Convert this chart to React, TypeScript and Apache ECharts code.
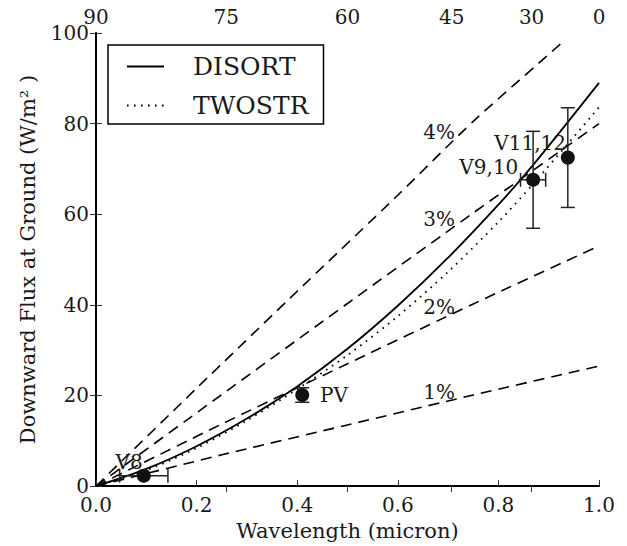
import React, { useEffect, useRef } from "react";
import * as echarts from "echarts";

// Model curves: downward flux at ground vs. wavelength
const waveGrid = [0, 0.1, 0.2, 0.3, 0.4, 0.5, 0.6, 0.7, 0.8, 0.87, 1.0];
const disortFlux = [0, 3.8, 8.8, 14.9, 22.0, 30.3, 39.8, 50.4, 62.1, 71.0, 89];
const twostrFlux = [0, 3.5, 8.4, 14.5, 21.4, 28.9, 37.5, 47.3, 58.3, 66.8, 83.6];

// Reference curves for fixed fractions
const pct4X = [0, 0.2, 0.4, 0.6, 0.75, 0.93];
const pct4Y = [0, 21.6, 43, 64.2, 80.5, 98.2];
const pct3X = [0, 0.25, 0.5, 0.75, 1.0];
const pct3Y = [0, 20.2, 40.3, 60.3, 80];
const pct2X = [0, 0.25, 0.5, 0.75, 1.0];
const pct2Y = [0, 13.7, 27, 40.2, 53];
const pct1X = [0, 0.25, 0.5, 0.75, 1.0];
const pct1Y = [0, 6.9, 13.5, 20.1, 26.5];
const pctLabels = ["4%", "3%", "2%", "1%"];
const pctLabelX = [0.682, 0.682, 0.682, 0.682];
const pctLabelY = [78.2, 58.9, 39.6, 20.7];

// Observations with error bars
const obsNames = ["V8", "PV", "V9,10", "V11,12"];
const obsX = [0.095, 0.41, 0.869, 0.938];
const obsY = [2.3, 20.1, 67.6, 72.5];
const obsXErr = [0.048, 0, 0.025, 0];
const obsYErr = [0, 1.6, 10.7, 11];
const obsLabelX = [0.066, 0.473, 0.781, 0.863];
const obsLabelY = [5.3, 20, 70.5, 75.8];

// Top axis: solar zenith angle (degrees), placed at cos(angle)
const zenithTicks = [90, 75, 60, 45, 30, 0];

const zip = (xs: number[], ys: number[]) => xs.map((x, i) => [x, ys[i]]);

const FONT = "DejaVu Serif";
const TEXT = "#1a1a1a";

export default function App() {
  const ref = useRef<HTMLDivElement>(null);

  useEffect(() => {
    if (!ref.current) return;
    const chart = echarts.init(ref.current, null, { renderer: "svg" });

    const zenithPos = zenithTicks.map((d) => Number(Math.cos((d * Math.PI) / 180).toFixed(6)));
    const angleAt = (v: number) => {
      const i = zenithPos.findIndex((p) => Math.abs(p - v) < 1e-4);
      return i >= 0 ? String(zenithTicks[i]) : "";
    };

    const dashed = (name: string, xs: number[], ys: number[]) => ({
      name,
      type: "line",
      data: zip(xs, ys),
      showSymbol: false,
      symbol: "none",
      smooth: 0.2,
      lineStyle: { color: "#000", width: 1.6, type: [11, 7] },
      z: 2,
    });

    const axisLine = { show: true, lineStyle: { color: "#000", width: 1.8 } };
    const tick = { show: true, inside: true, length: 6, lineStyle: { color: "#333", width: 1 } };
    const label = { fontFamily: FONT, fontSize: 20, color: TEXT };

    chart.setOption({
      animation: false,
      backgroundColor: "#fff",
      grid: { left: 96, right: 28, top: 33, bottom: 58, containLabel: false },
      legend: {
        left: 108,
        top: 45,
        orient: "vertical",
        data: ["DISORT", "TWOSTR"],
        itemWidth: 37,
        itemHeight: 14,
        itemGap: 14,
        padding: [9, 15, 6, 18],
        borderColor: "#000",
        borderWidth: 1.5,
        borderRadius: 0,
        itemStyle: { opacity: 0 },
        textStyle: { fontFamily: FONT, fontSize: 25, color: TEXT, padding: [0, 0, 0, 24] },
      },
      xAxis: [
        {
          type: "value",
          position: "bottom",
          min: 0,
          max: 1,
          interval: 0.2,
          axisLine,
          axisTick: tick,
          splitLine: { show: false },
          axisLabel: { ...label, margin: 9, formatter: (v: number) => v.toFixed(1) },
          name: "Wavelength (micron)",
          nameLocation: "middle",
          nameGap: 30,
          nameTextStyle: { fontFamily: FONT, fontSize: 21, color: TEXT },
        },
        {
          type: "value",
          position: "top",
          min: 0,
          max: 1,
          axisLine,
          axisTick: { ...tick, customValues: zenithPos.slice(1, -1) },
          splitLine: { show: false },
          axisLabel: { ...label, margin: 6, customValues: zenithPos, formatter: angleAt },
        },
      ],
      yAxis: [
        {
          type: "value",
          position: "left",
          min: 0,
          max: 100,
          interval: 20,
          axisLine,
          axisTick: tick,
          splitLine: { show: false },
          axisLabel: { ...label, margin: 7 },
          name: "Downward Flux at Ground (W/m² )",
          nameLocation: "middle",
          nameGap: 58,
          nameRotate: 90,
          nameTextStyle: { fontFamily: FONT, fontSize: 21, color: TEXT },
        },
        {
          type: "value",
          position: "right",
          min: 0,
          max: 100,
          interval: 20,
          axisLine,
          axisTick: tick,
          splitLine: { show: false },
          axisLabel: { show: false },
        },
      ],
      series: [
        dashed("4%", pct4X, pct4Y),
        dashed("3%", pct3X, pct3Y),
        dashed("2%", pct2X, pct2Y),
        dashed("1%", pct1X, pct1Y),
        {
          name: "DISORT",
          type: "line",
          data: zip(waveGrid, disortFlux),
          showSymbol: false,
          symbol: "none",
          smooth: 0.3,
          lineStyle: { color: "#000", width: 1.8, type: "solid" },
          itemStyle: { color: "#000" },
          z: 3,
        },
        {
          name: "TWOSTR",
          type: "line",
          data: zip(waveGrid, twostrFlux),
          showSymbol: false,
          symbol: "none",
          smooth: 0.3,
          lineStyle: { color: "#000", width: 1.8, type: [1.6, 5.4] },
          itemStyle: { color: "#000" },
          z: 3,
        },
        {
          name: "errors",
          type: "custom",
          data: obsX.map((x, i) => [x, obsY[i], obsXErr[i], obsYErr[i]]),
          renderItem: (_p: any, api: any) => {
            const x = api.value(0);
            const y = api.value(1);
            const xe = api.value(2);
            const ye = api.value(3);
            const style = { stroke: "#222", lineWidth: 1.5 };
            const cap = 7;
            const children: any[] = [];
            if (xe > 0) {
              const l = api.coord([x - xe, y]);
              const r = api.coord([x + xe, y]);
              children.push({ type: "line", shape: { x1: l[0], y1: l[1], x2: r[0], y2: r[1] }, style });
              children.push({ type: "line", shape: { x1: l[0], y1: l[1] - cap, x2: l[0], y2: l[1] + cap }, style });
              children.push({ type: "line", shape: { x1: r[0], y1: r[1] - cap, x2: r[0], y2: r[1] + cap }, style });
            }
            if (ye > 0) {
              const t = api.coord([x, y + ye]);
              const b = api.coord([x, y - ye]);
              children.push({ type: "line", shape: { x1: t[0], y1: t[1], x2: b[0], y2: b[1] }, style });
              children.push({ type: "line", shape: { x1: t[0] - cap, y1: t[1], x2: t[0] + cap, y2: t[1] }, style });
              children.push({ type: "line", shape: { x1: b[0] - cap, y1: b[1], x2: b[0] + cap, y2: b[1] }, style });
            }
            return { type: "group", children };
          },
          z: 4,
        },
        {
          name: "obs",
          type: "scatter",
          data: zip(obsX, obsY),
          symbol: "circle",
          symbolSize: 14,
          itemStyle: { color: "#111", opacity: 1 },
          z: 5,
        },
        {
          name: "labels",
          type: "scatter",
          symbolSize: 0,
          itemStyle: { opacity: 1 },
          data: [
            ...pctLabels.map((t, i) => [pctLabelX[i], pctLabelY[i], t]),
            ...obsNames.map((t, i) => [obsLabelX[i], obsLabelY[i], t]),
          ],
          label: {
            show: true,
            position: "inside",
            formatter: (p: any) => p.value[2],
            fontFamily: FONT,
            fontSize: 20,
            color: TEXT,
            opacity: 1,
          },
          z: 6,
        },
      ],
    });

    return () => chart.dispose();
  }, []);

  return (
    <div
      ref={ref}
      style={{ position: "fixed", left: 0, top: 0, width: 627, height: 546, background: "#fff" }}
    />
  );
}
